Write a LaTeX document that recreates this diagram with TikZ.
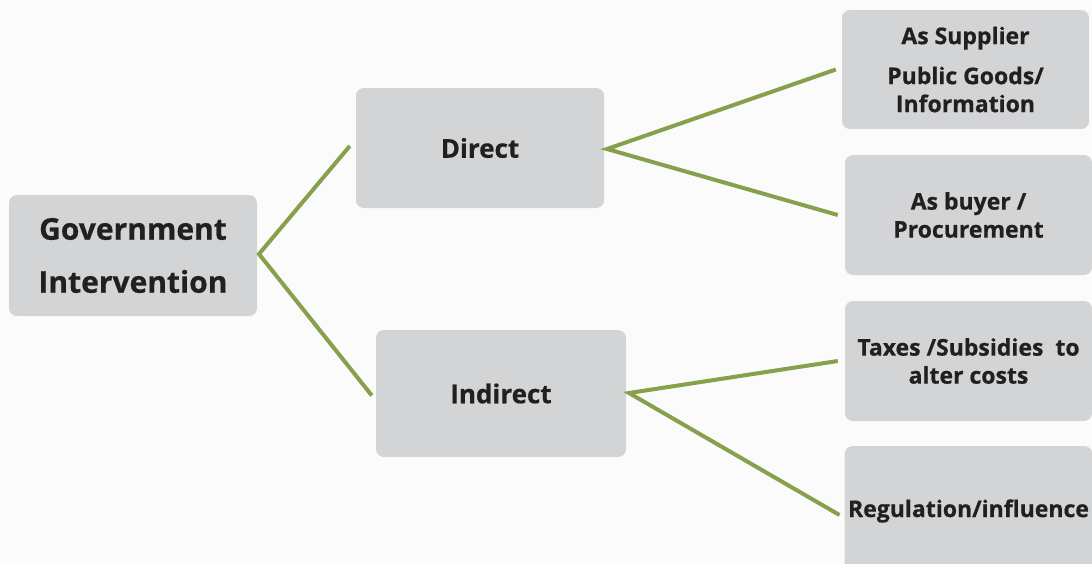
\documentclass[tikz,border=0pt]{standalone}
\usepackage{fontspec}
\setmainfont{Open Sans}[BoldFeatures={FakeBold=0.6}]
\definecolor{bgc}{HTML}{FBFBFB}
\definecolor{boxc}{HTML}{D3D4D6}
\definecolor{txtc}{HTML}{231F20}
\definecolor{linec}{HTML}{86A04B}
\begin{document}
\begin{tikzpicture}[x=1pt,y=-1pt,
  box/.style={fill=boxc,rounded corners=8pt,draw=none,text=txtc,font=\bfseries,align=center},
  big/.style={font=\bfseries\fontsize{30}{53}\selectfont},
  mid/.style={font=\bfseries\fontsize{26}{28}\selectfont},
  small/.style={font=\bfseries\fontsize{23}{28}\selectfont},
  conn/.style={draw=linec,line width=4pt}]
\fill[bgc] (0,0) rectangle (1092,563);
\useasboundingbox (0,0) rectangle (1092,563);
% boxes
\node[box,big,minimum width=248pt,minimum height=121pt] (gov) at (133,255.5) {Government\\Intervention};
\node[box,mid,minimum width=248pt,minimum height=120pt] (direct) at (480,148) {Direct};
\node[box,mid,minimum width=250pt,minimum height=127pt] (indirect) at (501,393.5) {Indirect};
\node[box,small,minimum width=247pt,minimum height=119pt] (supp) at (965.5,69.5) {As Supplier\\[12pt]Public Goods/\\Information};
\node[box,small,minimum width=247pt,minimum height=120pt] (buyer) at (968.5,215) {As buyer /\\Procurement};
\node[box,small,minimum width=247pt,minimum height=120pt] (taxes) at (968.5,361) {Taxes /Subsidies\ \ to\\alter costs};
\node[box,small,minimum width=247pt,minimum height=130pt] (reg) at (968.5,511) {Regulation/influence};
% connector junctions
\coordinate (g0) at (259,254);
\coordinate (d0) at (607,149);
\coordinate (i0) at (629,393);
\draw[conn] ([xshift=-6pt,yshift=2pt]direct.west) -- (g0) -- ([xshift=-4pt,yshift=-2pt]indirect.west);
\draw[conn] ([xshift=-6pt,yshift=0pt]supp.west) -- (d0) -- ([xshift=-7pt,yshift=0pt]buyer.west);
\draw[conn] ([xshift=-7pt,yshift=0pt]taxes.west) -- (i0) -- ([xshift=-5pt,yshift=-4pt]reg.west);
\end{tikzpicture}
\end{document}
